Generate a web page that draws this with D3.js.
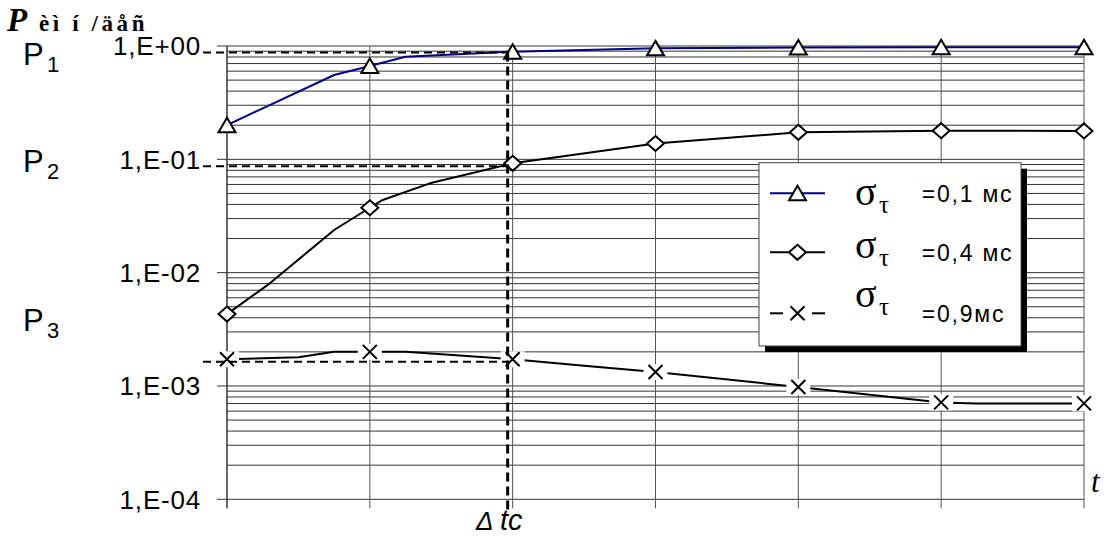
<!DOCTYPE html>
<html><head><meta charset="utf-8">
<script src="https://cdn.jsdelivr.net/npm/d3@7"></script>
<style>body{margin:0;background:#fff;} svg{display:block}</style>
</head><body><svg id="c" width="1106" height="537"></svg>
<script>
// ---------- data ----------
const categories = [0, 1, 2, 3, 4, 5, 6];          // marker positions along t
const s1X = [0, 0.25, 0.75, 1, 1.25, 2, 3, 4, 5, 6];
const s1Y = [0.2, 0.282, 0.555, 0.666, 0.805, 0.89, 0.953, 0.97, 0.975, 0.975];
const s2X = [0, 0.3, 0.75, 1, 1.09, 1.42, 2, 3, 4, 5, 6];
const s2Y = [0.00431, 0.00805, 0.0238, 0.0374, 0.0438, 0.0614, 0.0922, 0.138, 0.173, 0.179, 0.178];
const s3X = [0, 0.5, 0.75, 1, 1.25, 2, 2.5, 3, 4, 5, 5.25, 6];
const s3Y = [0.00172, 0.00179, 0.002, 0.002, 0.002, 0.00172, 0.00151, 0.00133, 0.00098, 0.000716, 0.000702, 0.000702];
const tickValues = [1, 0.1, 0.01, 0.001, 0.0001];
const tickLabels = ["1,E+00", "1,E-01", "1,E-02", "1,E-03", "1,E-04"];
const legendLabels = ["=0,1 мс", "=0,4 мс", "=0,9мс"];
const refT = 1.965;                      // Δtc
const refP = [0.876, 0.087, 0.00164];    // P1, P2, P3
const pLabels = ["1", "2", "3"];

// ---------- layout ----------
const svg = d3.select("#c");
const X0 = 227, X1 = 1084, Y0 = 499.3, Y1 = 46;
const x = d3.scaleLinear().domain([0, 6]).range([X0, X1]);
const y = d3.scaleLog().domain([1e-4, 1]).range([Y0, Y1]);
const sans = "'Liberation Sans', Arial, sans-serif";
const serif = "'Liberation Serif', 'Times New Roman', serif";

// horizontal gridlines (all log ticks)
const gh = svg.append("g");
y.ticks().forEach(v => {
  const major = Math.abs(Math.log10(v) - Math.round(Math.log10(v))) < 1e-9;
  gh.append("line").attr("x1", major ? X0 - 10 : X0).attr("x2", X1)
    .attr("y1", y(v)).attr("y2", y(v))
    .attr("stroke", "#333").attr("stroke-width", 1);
});
// vertical gridlines
categories.forEach(c => {
  svg.append("line").attr("x1", x(c)).attr("x2", x(c))
    .attr("y1", Y1).attr("y2", Y0 + 9)
    .attr("stroke", c === 0 ? "#333" : "#555").attr("stroke-width", c === 0 ? 1.5 : 1);
});
// y tick labels
tickValues.forEach((v, i) => {
  svg.append("text").attr("x", 201).attr("y", y(v) + 9.3)
    .attr("text-anchor", "end").attr("font-family", sans).attr("font-size", 26)
    .attr("letter-spacing", 0.8).attr("fill", "#000").text(tickLabels[i]);
});

// lines
const line = d3.line().x(d => x(d[0])).y(d => y(d[1]));
const ser = [
  {xs: s1X, ys: s1Y, color: "#000080", marker: "tri"},
  {xs: s2X, ys: s2Y, color: "#000", marker: "dia"},
  {xs: s3X, ys: s3Y, color: "#000", marker: "x"}
];
function drawMarker(g, type, cx, cy) {
  if (type === "tri") {
    g.append("path").attr("d", `M${cx},${cy-7.5} L${cx+8.5},${cy+7} L${cx-8.5},${cy+7} Z`)
      .attr("fill", "#fff").attr("stroke", "#000").attr("stroke-width", 2);
  } else if (type === "dia") {
    g.append("path").attr("d", `M${cx},${cy-7.5} L${cx+8.5},${cy} L${cx},${cy+7.5} L${cx-8.5},${cy} Z`)
      .attr("fill", "#fff").attr("stroke", "#000").attr("stroke-width", 2);
  } else {
    g.append("path").attr("d", `M${cx-7},${cy-7} L${cx+7},${cy+7} M${cx-7},${cy+7} L${cx+7},${cy-7}`)
      .attr("fill", "none").attr("stroke", "#000").attr("stroke-width", 2);
  }
}
ser.forEach(s => {
  const pts = s.xs.map((t, i) => [t, s.ys[i]]);
  svg.append("path").datum(pts).attr("d", line).attr("fill", "none")
    .attr("stroke", s.color).attr("stroke-width", 2).attr("stroke-linejoin", "round");
});
// white background of the X markers hides line and grid around them
categories.forEach(c => {
  const v = s3Y[s3X.indexOf(c)];
  svg.append("rect").attr("x", x(c) - 12).attr("y", y(v) - 8).attr("width", 24).attr("height", 16).attr("fill", "#fff");
});
ser.forEach(s => {
  categories.forEach(c => {
    const v = s.ys[s.xs.indexOf(c)];
    drawMarker(svg, s.marker, x(c), y(v));
  });
});

// dashed reference lines
refP.forEach(p => {
  svg.append("line").attr("x1", 203).attr("x2", x(refT)).attr("y1", y(p)).attr("y2", y(p))
    .attr("stroke", "#000").attr("stroke-width", 2).attr("stroke-dasharray", "8,5");
});
svg.append("line").attr("x1", x(refT)).attr("x2", x(refT)).attr("y1", y(refP[0])).attr("y2", 514)
  .attr("stroke", "#000").attr("stroke-width", 3).attr("stroke-dasharray", "9,5");

// P labels
const pBase = [65, 171.7, 330.7];
refP.forEach((p, i) => {
  const t = svg.append("text").attr("x", 23).attr("y", pBase[i])
    .attr("font-family", sans).attr("font-size", 31).attr("fill", "#000");
  t.append("tspan").text("P");
  t.append("tspan").attr("x", 47).attr("dy", 7).attr("font-size", 22).text(pLabels[i]);
});

// title
const tt = svg.append("text").attr("x", 7).attr("y", 31).attr("font-family", serif).attr("fill", "#000").attr("font-weight", "bold");
tt.append("tspan").attr("font-size", 33).attr("font-style", "italic").text("P");
tt.append("tspan").attr("x", 39).attr("font-size", 23).attr("letter-spacing", 3.6).text("èì í /äåñ");

// axis labels
const dt = svg.append("text").attr("x", 476).attr("y", 530).attr("font-family", sans).attr("font-style", "italic").attr("fill", "#000");
dt.append("tspan").attr("font-size", 26).text("Δ");
dt.append("tspan").attr("x", 500).attr("font-size", 29).text("tc");
svg.append("text").attr("x", 1091).attr("y", 492).attr("font-family", serif).attr("font-style", "italic")
  .attr("font-size", 31).attr("fill", "#000").text("t");

// legend
const L = {x: 759, y: 162.7, w: 262, h: 183.3};
svg.append("rect").attr("x", L.x + 6).attr("y", L.y + 6).attr("width", L.w).attr("height", L.h).attr("fill", "#000");
svg.append("rect").attr("x", L.x).attr("y", L.y).attr("width", L.w).attr("height", L.h)
  .attr("fill", "#fff").attr("stroke", "#444").attr("stroke-width", 1);
const rowY = [193.3, 252.3, 313.3];
const sigB = [205, 258.3, 306.7];
const txtB = [202, 260.5, 322];
ser.forEach((s, i) => {
  const cy = rowY[i];
  if (s.marker === "x") {
    svg.append("line").attr("x1", 770).attr("x2", 783).attr("y1", cy).attr("y2", cy).attr("stroke", "#000").attr("stroke-width", 2);
    svg.append("line").attr("x1", 812).attr("x2", 825).attr("y1", cy).attr("y2", cy).attr("stroke", "#000").attr("stroke-width", 2);
  } else {
    svg.append("line").attr("x1", 770).attr("x2", 825).attr("y1", cy).attr("y2", cy).attr("stroke", s.color).attr("stroke-width", 2);
  }
  drawMarker(svg, s.marker, 797.5, cy);
  const st = svg.append("text").attr("x", 855).attr("y", sigB[i]).attr("font-family", serif).attr("fill", "#000");
  st.append("tspan").attr("font-size", 40).text("σ");
  st.append("tspan").attr("x", 879).attr("dy", 8).attr("font-size", 25).text("τ");
  svg.append("text").attr("x", 921.7).attr("y", txtB[i]).attr("font-family", sans).attr("font-size", 23)
    .attr("letter-spacing", 1.8).attr("fill", "#000").text(legendLabels[i]);
});
</script></body></html>
